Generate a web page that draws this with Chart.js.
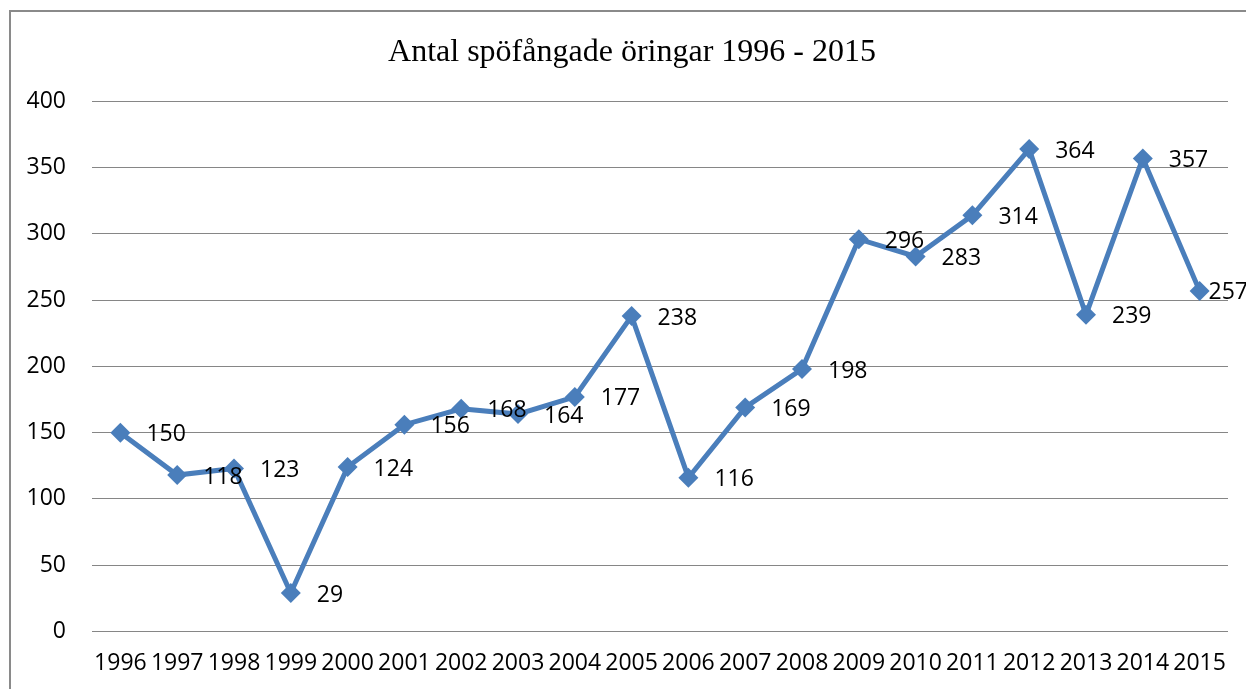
<!DOCTYPE html>
<html>
<head>
<meta charset="utf-8">
<script src="https://cdn.jsdelivr.net/npm/chart.js@4"></script>
<style>
    html, body { margin: 0; padding: 0; background: #fff; overflow: hidden; width: 1246px; height: 689px; }
    #frame { position: absolute; left: 9px; top: 10px; width: 1300px; height: 760px; border: 2px solid #8a8a8a; }
    #wrap { position: absolute; left: 0; top: 0; width: 1246px; height: 695px; }
</style>
</head>
<body>
<div id="frame"></div>
<div id="wrap"><canvas id="troutChart"></canvas></div>
<script>
const years = ['1996', '1997', '1998', '1999', '2000', '2001', '2002', '2003', '2004', '2005',
               '2006', '2007', '2008', '2009', '2010', '2011', '2012', '2013', '2014', '2015'];
const catches = [150, 118, 123, 29, 124, 156, 168, 164, 177, 238,
                 116, 169, 198, 296, 283, 314, 364, 239, 357, 257];
const yTicks = [0, 50, 100, 150, 200, 250, 300, 350, 400];

const labelFont = '23px "Open Sans", "Liberation Sans", sans-serif';

// Values written to the right of each marker (pulled back if it would run off the edge)
const valueLabels = {
    id: 'valueLabels',
    afterDatasetsDraw(chart) {
        const ctx = chart.ctx;
        const meta = chart.getDatasetMeta(0);
        ctx.save();
        ctx.font = labelFont;
        ctx.fillStyle = '#000';
        ctx.textAlign = 'left';
        ctx.textBaseline = 'middle';
        meta.data.forEach((pt, i) => {
            const txt = String(catches[i]);
            const w = ctx.measureText(txt).width;
            const x = Math.min(pt.x + 26, chart.width - w + 2);
            ctx.fillText(txt, x, pt.y + 2);
        });
        ctx.restore();
    }
};

// Centre the title over the framed area rather than the whole canvas
const shiftTitle = {
    id: 'shiftTitle',
    afterLayout(chart) {
        if (chart.titleBlock) {
            chart.titleBlock.left += 36;
        }
    }
};

const ctx = document.getElementById('troutChart').getContext('2d');
const troutChart = new Chart(ctx, {
    type: 'line',
    data: {
        labels: years,
        datasets: [{
            label: 'Antal',
            data: catches,
            borderColor: '#4a7ebb',
            backgroundColor: '#4a7ebb',
            borderWidth: 5,
            tension: 0,
            pointStyle: 'rectRot',
            pointRadius: 10,
            pointBorderWidth: 0,
            pointBackgroundColor: '#4a7ebb',
            clip: false
        }]
    },
    options: {
        responsive: true,
        maintainAspectRatio: false,
        animation: false,
        layout: {
            padding: { left: 0, right: 18, top: 0, bottom: 0 }
        },
        plugins: {
            legend: { display: false },
            tooltip: { enabled: false },
            title: {
                display: true,
                text: 'Antal spöfångade öringar 1996 - 2015',
                color: '#000',
                font: { family: '"Liberation Serif", "Times New Roman", serif', size: 32, weight: 'normal' },
                padding: { top: 33, bottom: 30 }
            }
        },
        scales: {
            x: {
                offset: true,
                grid: { display: false, drawTicks: false },
                border: { display: false },
                ticks: {
                    color: '#000',
                    font: { family: '"Open Sans", "Liberation Sans", sans-serif', size: 23 },
                    padding: 18,
                    autoSkip: false,
                    maxRotation: 0
                }
            },
            y: {
                min: 0,
                max: 400,
                afterFit(axis) { axis.width = 92; },
                afterBuildTicks(axis) { axis.ticks = yTicks.map(v => ({ value: v })); },
                grid: { color: '#868686', lineWidth: 1, drawTicks: false },
                border: { display: false },
                ticks: {
                    color: '#000',
                    font: { family: '"Open Sans", "Liberation Sans", sans-serif', size: 23 },
                    padding: 26
                }
            }
        }
    },
    plugins: [valueLabels, shiftTitle]
});
</script>
</body>
</html>
